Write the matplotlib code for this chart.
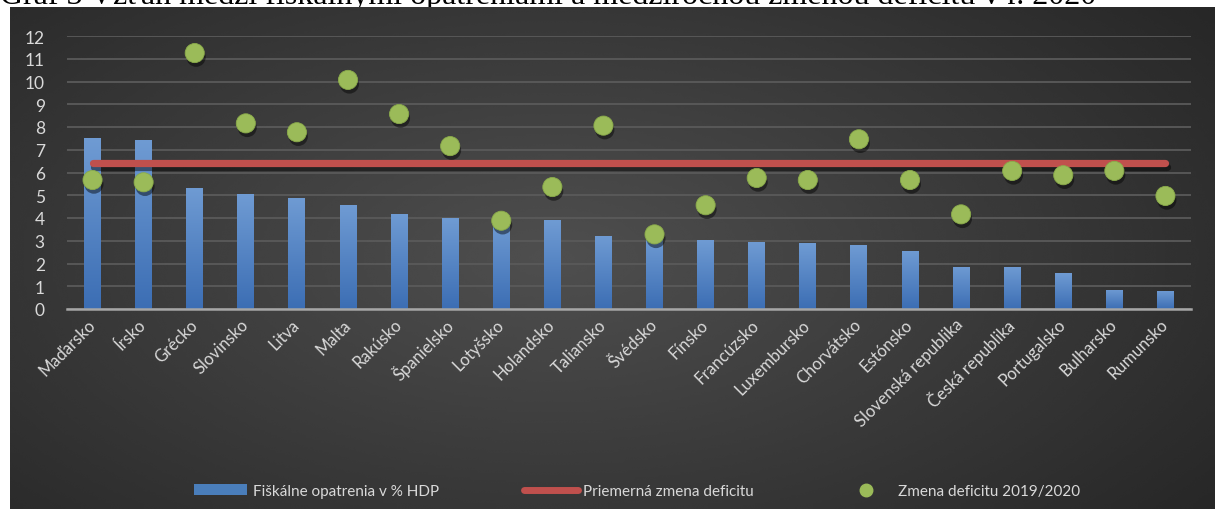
import numpy as np
import matplotlib
matplotlib.use("Agg")
import matplotlib.pyplot as plt
from matplotlib.lines import Line2D
from matplotlib.patches import Patch
import matplotlib.patheffects as pe

plt.rcParams['font.family'] = ['Lato', 'DejaVu Sans']

# data
countries = ["Maďarsko", "Írsko", "Grécko", "Slovinsko", "Litva", "Malta", "Rakúsko",
             "Španielsko", "Lotyšsko", "Holandsko", "Taliansko", "Švédsko", "Fínsko",
             "Francúzsko", "Luxembursko", "Chorvátsko", "Estónsko", "Slovenská republika",
             "Česká republika", "Portugalsko", "Bulharsko", "Rumunsko"]
fiscal_measures = [7.5, 7.45, 5.32, 5.05, 4.88, 4.57, 4.18, 4.0, 3.85, 3.91, 3.21, 3.15,
                   3.03, 2.94, 2.9, 2.81, 2.55, 1.85, 1.85, 1.58, 0.84, 0.8]
deficit_change = [5.67, 5.57, 11.25, 8.16, 7.77, 10.07, 8.57, 7.16, 3.88, 5.36, 8.06, 3.28,
                  4.56, 5.76, 5.67, 7.46, 5.67, 4.16, 6.07, 5.88, 6.07, 4.97]
avg_deficit_change = [6.42] * len(countries)

series_labels = ["Fiškálne opatrenia v % HDP", "Priemerná zmena deficitu",
                 "Zmena deficitu 2019/2020"]
title = "Graf 3 Vzťah medzi fiškálnymi opatreniami a medziročnou zmenou deficitu v r. 2020"

BLUE = "#4a7ebb"
RED = "#c0504d"
GREEN = "#9bbb59"
TXT = "#d9d9d9"

W, H = 1215, 510
fig = plt.figure(figsize=(W / 100, H / 100), dpi=100)
fig.patch.set_facecolor("white")

# dark panel with radial gradient
bg = fig.add_axes([10 / W, 0, 1 - 10 / W, 1 - 8 / H], zorder=0)
yy, xx = np.mgrid[0:1:200j, 0:1:400j]
r = np.sqrt(((xx - 0.45) / 0.75) ** 2 + ((yy - 0.5) / 0.9) ** 2)
shade = np.clip(1 - r, 0, 1)
bg.imshow(0.14 + 0.17 * shade, cmap="gray", vmin=0, vmax=1, aspect="auto",
          extent=[0, 1, 0, 1], interpolation="bicubic")
bg.set_axis_off()

# title sits mostly above the picture, as in the cropped original
fig.text(0.0, 1 - 4 / H, title, family="Liberation Serif", fontsize=23,
         color="black", va="baseline", ha="left", zorder=-1)

ax = fig.add_axes([67 / W, 1 - 310 / H, (1191 - 67) / W, (310 - 37) / H], zorder=1)
ax.set_facecolor("none")
x = np.arange(len(countries))

bars = ax.bar(x, fiscal_measures, width=0.33, color=BLUE, zorder=2)
grad = np.linspace(0, 1, 100).reshape(-1, 1)
cmap = matplotlib.colors.LinearSegmentedColormap.from_list("b", ["#3c6eb4", "#6f9bd3"])
for b in bars:
    im = ax.imshow(grad, cmap=cmap, aspect="auto", origin="lower", zorder=2.1,
                   extent=[b.get_x(), b.get_x() + b.get_width(), 0, b.get_height()])
    im.set_clip_path(b)

line_fx = [pe.SimpleLineShadow(offset=(1, -3), shadow_color="black", alpha=0.45), pe.Normal()]
dot_fx = [pe.SimplePatchShadow(offset=(1, -3), shadow_rgbFace="black", alpha=0.45), pe.Normal()]
ax.plot(x, avg_deficit_change, color=RED, lw=5.2, solid_capstyle="round", zorder=3,
        path_effects=line_fx)
ax.scatter(x, deficit_change, s=190, color=GREEN, edgecolor="#8aab4a", linewidth=0.6,
           zorder=4, path_effects=dot_fx)

ax.set_xlim(-0.5, len(countries) - 0.5)
ax.set_ylim(0, 12)
ax.set_yticks(range(0, 13))
ax.yaxis.grid(True, color="#5a5a5a", lw=1.3, zorder=0)
ax.set_axisbelow(True)
for s in ["top", "right", "left"]:
    ax.spines[s].set_visible(False)
ax.spines["bottom"].set_color("#a6a6a6")
ax.spines["bottom"].set_linewidth(1.8)
ax.spines["bottom"].set_zorder(5)
ax.tick_params(axis="y", length=0, pad=16, labelsize=12.5, labelcolor=TXT)
ax.tick_params(axis="x", length=0, pad=9, labelsize=12, labelcolor=TXT)
ax.set_xticks(x)
ax.set_xticklabels(countries, rotation=45, ha="right", va="center", rotation_mode="anchor")

handles = [Patch(facecolor=BLUE, edgecolor="none"),
           Line2D([0], [0], color=RED, lw=5, solid_capstyle="round"),
           Line2D([0], [0], color=GREEN, marker="o", ls="none", markersize=9)]
leg = fig.legend(handles, series_labels, loc="center", bbox_to_anchor=(637 / W, 1 - 492 / H),
                 ncol=3, frameon=False, fontsize=11, labelcolor=TXT, handlelength=3.5,
                 handleheight=0.7, handletextpad=0.35, columnspacing=5.6)

fig.savefig("out.png", dpi=100, facecolor=fig.get_facecolor())
